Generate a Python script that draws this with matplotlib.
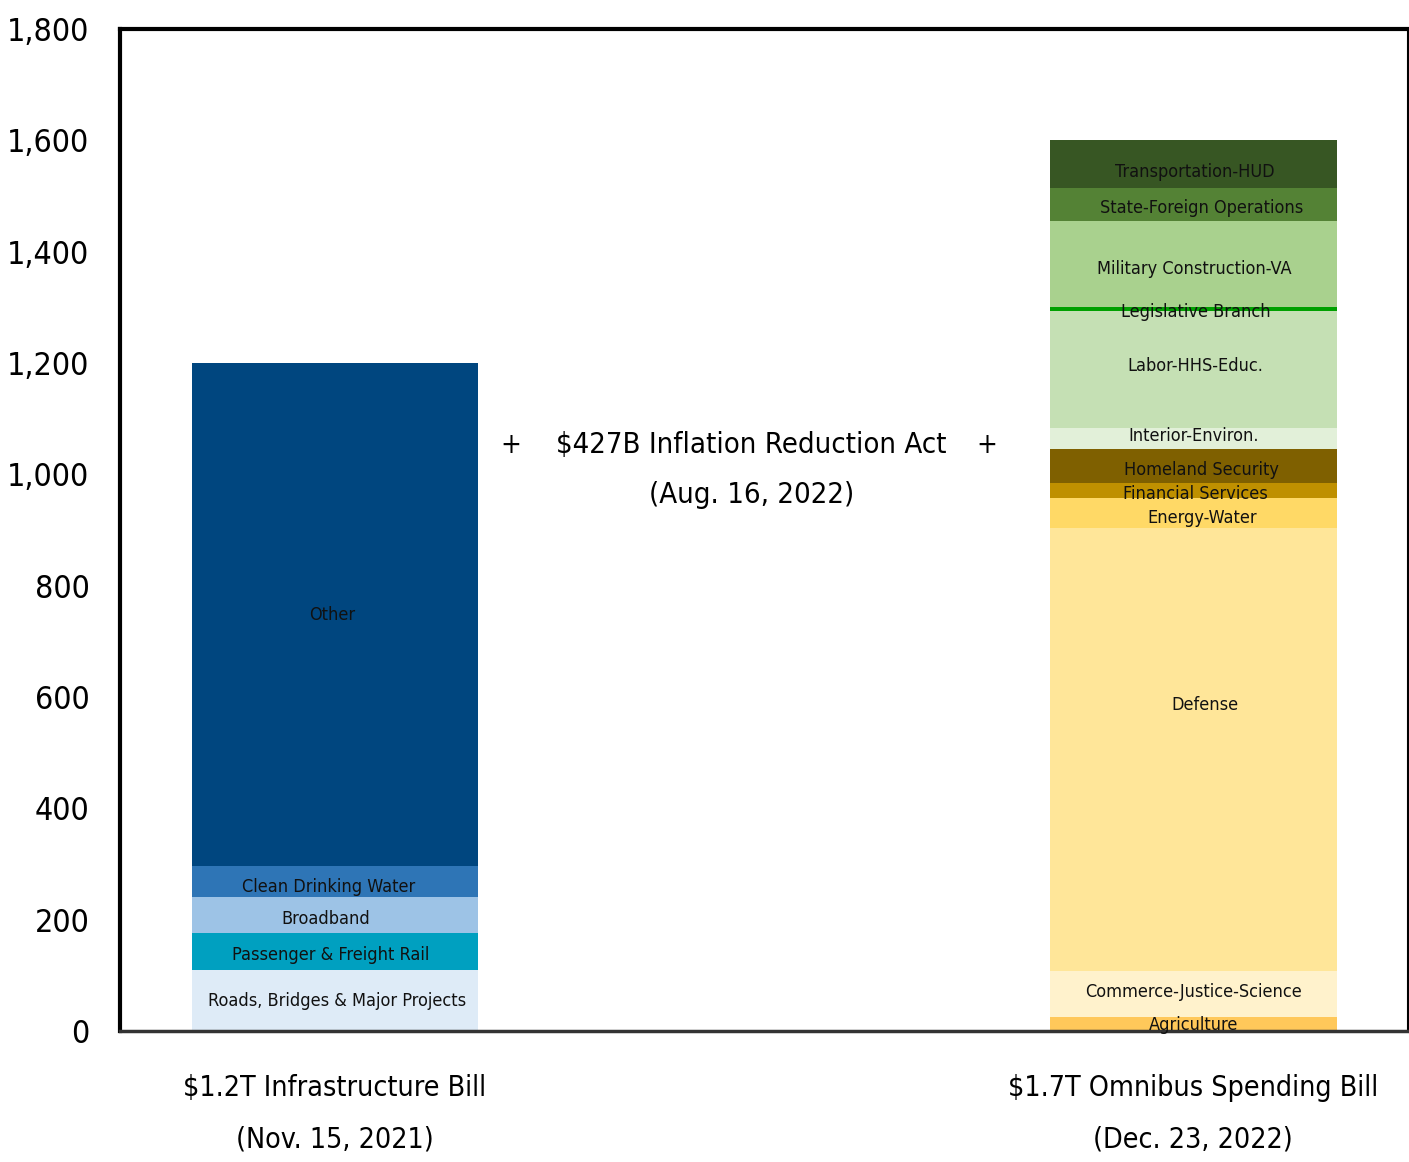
import matplotlib.pyplot as plt
import numpy as np

plt.rcParams['font.family'] = ['DejaVu Sans']
plt.rcParams['font.stretch'] = 'condensed'

# Infrastructure bill components ($B), bottom to top
infra_labels = ['Roads, Bridges & Major Projects', 'Passenger & Freight Rail',
                'Broadband', 'Clean Drinking Water', 'Other']
infra_values = [110, 66, 65, 55, 904]
infra_colors = ['#DEEBF7', '#00A0C0', '#9DC3E6', '#2E75B6', '#00467F']

# Omnibus appropriations subcommittees ($B), bottom to top
omni_labels = ['Agriculture', 'Commerce-Justice-Science', 'Defense', 'Energy-Water',
               'Financial Services', 'Homeland Security', 'Interior-Environ.',
               'Labor-HHS-Educ.', 'Legislative Branch', 'Military Construction-VA',
               'State-Foreign Operations', 'Transportation-HUD']
omni_values = [25, 82, 797, 54, 27, 61, 38, 210, 6, 156, 58, 86]
omni_colors = ['#FFC85A', '#FFF2CC', '#FFE699', '#FFD966', '#BF9000', '#7F6000',
               '#E2F0D9', '#C5E0B4', '#00A000', '#A9D18E', '#548235', '#375623']

categories = ['$1.2T Infrastructure Bill\n(Nov. 15, 2021)', '',
              '$1.7T Omnibus Spending Bill\n(Dec. 23, 2022)']
ira_text = '$427B Inflation Reduction Act\n(Aug. 16, 2022)'

# label nudges (x in category units, y in $B) so the text sits where it reads best
infra_dy = [-1, -7, -7, -9, 0]
infra_dx = [0.005, -0.01, -0.02, -0.015, -0.005]
omni_dy = [-2, 5, 80, -10, -7, -8, 4, 5, -5, -9, -7, -14]
omni_dx = [0, 0, 0.026, 0.02, 0.005, 0.02, 0, 0.005, 0.005, 0.003, 0.02, 0.003]

fig = plt.figure(figsize=(14.09, 11.62), dpi=100)
ax = fig.add_axes([0.0852, 0.1127, 0.9141, 0.8623])

width = 0.667


def stack(x, values, labels, colors, dx, dy):
    bottom = 0
    for i, (v, lab, c) in enumerate(zip(values, labels, colors)):
        ax.bar(x, v, width, bottom=bottom, color=c, edgecolor='none')
        ax.text(x + dx[i], bottom + v / 2 + dy[i], lab, ha='center', va='center',
                fontsize=13, color='#111111')
        bottom += v


stack(0, infra_values, infra_labels, infra_colors, infra_dx, infra_dy)
stack(2, omni_values, omni_labels, omni_colors, omni_dx, omni_dy)

ax.text(0.97, 1007, ira_text, ha='center', va='center', fontsize=21,
        linespacing=2.0)
ax.text(0.41, 1052, '+', ha='center', va='center', fontsize=20)
ax.text(1.52, 1052, '+', ha='center', va='center', fontsize=20)

ax.set_xlim(-0.5, 2.5)
ax.set_ylim(0, 1800)
ax.set_yticks(np.arange(0, 1801, 200))
ax.set_yticklabels([f'{v:,}' for v in range(0, 1801, 200)], fontsize=23)
ax.tick_params(axis='y', length=0, pad=22)
ax.set_xticks([0, 2])
ax.set_xticklabels([categories[0], categories[2]], fontsize=20.5, linespacing=2.05)
ax.tick_params(axis='x', length=0, pad=31)

for side in ['left', 'top']:
    ax.spines[side].set_linewidth(3)
    ax.spines[side].set_color('black')
ax.spines['right'].set_linewidth(1.5)
ax.spines['bottom'].set_linewidth(2.5)
ax.spines['bottom'].set_color('#333333')

fig.savefig('out.png', dpi=100)
